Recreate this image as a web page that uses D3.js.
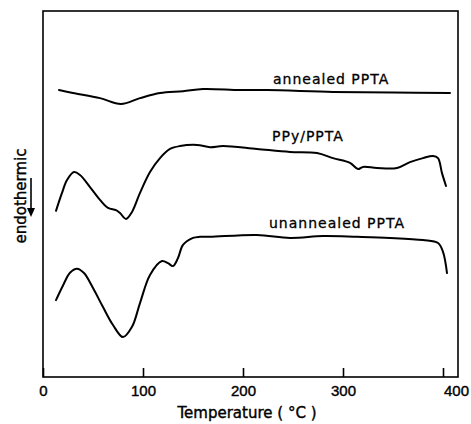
<!DOCTYPE html>
<html>
<head>
<meta charset="utf-8">
<script src="https://cdn.jsdelivr.net/npm/d3@7"></script>
<style>
  html, body { margin: 0; padding: 0; background: #fff; }
  svg { display: block; }
  text { fill: #000; }
</style>
</head>
<body>
<svg id="chart" width="471" height="424"></svg>
<script>
// Temperature (°C) and DSC signal (arbitrary units, offset traces)
const annealedT = [16, 30, 57, 78, 97, 117, 140, 160, 197, 224, 290, 350, 407];
const annealedV = [78.4, 77.6, 76.2, 74.6, 76.2, 77.6, 78.1, 78.7, 78.4, 78.4, 77.9, 77.7, 77.6];

const ppyT = [13, 19, 24, 31, 37, 47, 57, 65, 73, 77, 83, 89, 97, 107, 117, 127, 137, 154, 167, 180, 214, 247, 274, 290, 307, 315, 320, 334, 354, 367, 380, 390, 395, 399, 403];
const ppyV = [45.4, 50.3, 53.8, 56.0, 55.2, 51.9, 48.4, 46.2, 45.6, 44.8, 43.2, 45.1, 50.3, 56.0, 59.8, 62.3, 63.1, 63.4, 62.8, 63.1, 62.3, 61.5, 61.2, 59.8, 58.5, 56.8, 57.4, 57.1, 57.1, 58.7, 59.8, 60.4, 59.8, 55.7, 52.2];

const unannT = [13, 20, 27, 34, 41, 50, 60, 70, 80, 89, 97, 107, 119, 125, 130, 135, 140, 150, 157, 167, 214, 247, 280, 314, 347, 380, 395, 400, 404];
const unannV = [21.0, 25.0, 28.5, 29.6, 28.4, 24.3, 19.1, 14.2, 10.9, 13.7, 20.2, 27.9, 31.7, 31.1, 30.3, 32.5, 36.1, 38.0, 38.3, 38.3, 38.8, 38.0, 38.5, 38.3, 38.0, 37.4, 36.6, 34.2, 28.4];

const seriesNames = ["annealed PPTA", "PPy/PPTA", "unannealed PPTA"];
const labelT = [230, 229, 226];
const labelV = [80.0, 64.5, 40.7];

const xTicks = [0, 100, 200, 300, 400];
const xTickLabels = ["0", "100", "200", "300", "400"];
const xTitle = "Temperature ( °C )";
const yTitle = "endothermic";

const svg = d3.select("#chart");
const L = 43, R = 458, T = 11, B = 377;

const x = d3.scaleLinear().domain([0, 415]).range([L, R]);
const y = d3.scaleLinear().domain([0, 100]).range([B, T]);

// frame
svg.append("rect")
  .attr("x", L).attr("y", T).attr("width", R - L).attr("height", B - T)
  .attr("fill", "none").attr("stroke", "#000").attr("stroke-width", 1.6);

// x axis
const ax = svg.append("g")
  .attr("transform", `translate(0,${B})`)
  .call(d3.axisBottom(x).tickValues(xTicks)
    .tickFormat((d, i) => xTickLabels[i])
    .tickSizeInner(-9).tickSizeOuter(0).tickPadding(8));
ax.select(".domain").remove();
ax.selectAll(".tick line").attr("stroke", "#000").attr("stroke-width", 1.6);
ax.selectAll(".tick text")
  .attr("font-family", "'Liberation Sans', Arial, sans-serif")
  .attr("font-size", 15)
  .attr("fill", "#000")
  .attr("stroke", "#000").attr("stroke-width", 0.4)
  .attr("dx", (d, i) => i === xTicks.length - 1 ? 13 : 0);

svg.append("text")
  .attr("x", 247).attr("y", 418)
  .attr("text-anchor", "middle")
  .attr("font-family", "'DejaVu Sans', sans-serif")
  .attr("font-size", 15)
  .attr("stroke", "#000").attr("stroke-width", 0.4)
  .text(xTitle);

// y title + arrow
svg.append("text")
  .attr("transform", "translate(26,196) rotate(-90)")
  .attr("text-anchor", "middle")
  .attr("font-family", "'DejaVu Sans', sans-serif")
  .attr("font-size", 15)
  .attr("stroke", "#000").attr("stroke-width", 0.4)
  .text(yTitle);
svg.append("line")
  .attr("x1", 31).attr("x2", 31).attr("y1", 178).attr("y2", 210)
  .attr("stroke", "#000").attr("stroke-width", 1.6);
svg.append("path")
  .attr("d", "M27,208 L35,208 L31,217 Z")
  .attr("fill", "#000");

// curves
const line = d3.line()
  .x(d => x(d[0])).y(d => y(d[1]))
  .curve(d3.curveCatmullRom.alpha(0.5));

const series = [
  d3.zip(annealedT, annealedV),
  d3.zip(ppyT, ppyV),
  d3.zip(unannT, unannV)
];

svg.selectAll("path.curve")
  .data(series)
  .enter().append("path")
  .attr("class", "curve")
  .attr("d", line)
  .attr("fill", "none")
  .attr("stroke", "#000")
  .attr("stroke-width", 2)
  .attr("stroke-linejoin", "round")
  .attr("stroke-linecap", "round");

svg.selectAll("text.lab")
  .data(seriesNames)
  .enter().append("text")
  .attr("class", "lab")
  .attr("x", (d, i) => x(labelT[i]))
  .attr("y", (d, i) => y(labelV[i]))
  .attr("font-family", "'DejaVu Sans', sans-serif")
  .attr("font-size", 14)
  .attr("letter-spacing", 1)
  .attr("stroke", "#000").attr("stroke-width", 0.3)
  .text(d => d);
</script>
</body>
</html>
